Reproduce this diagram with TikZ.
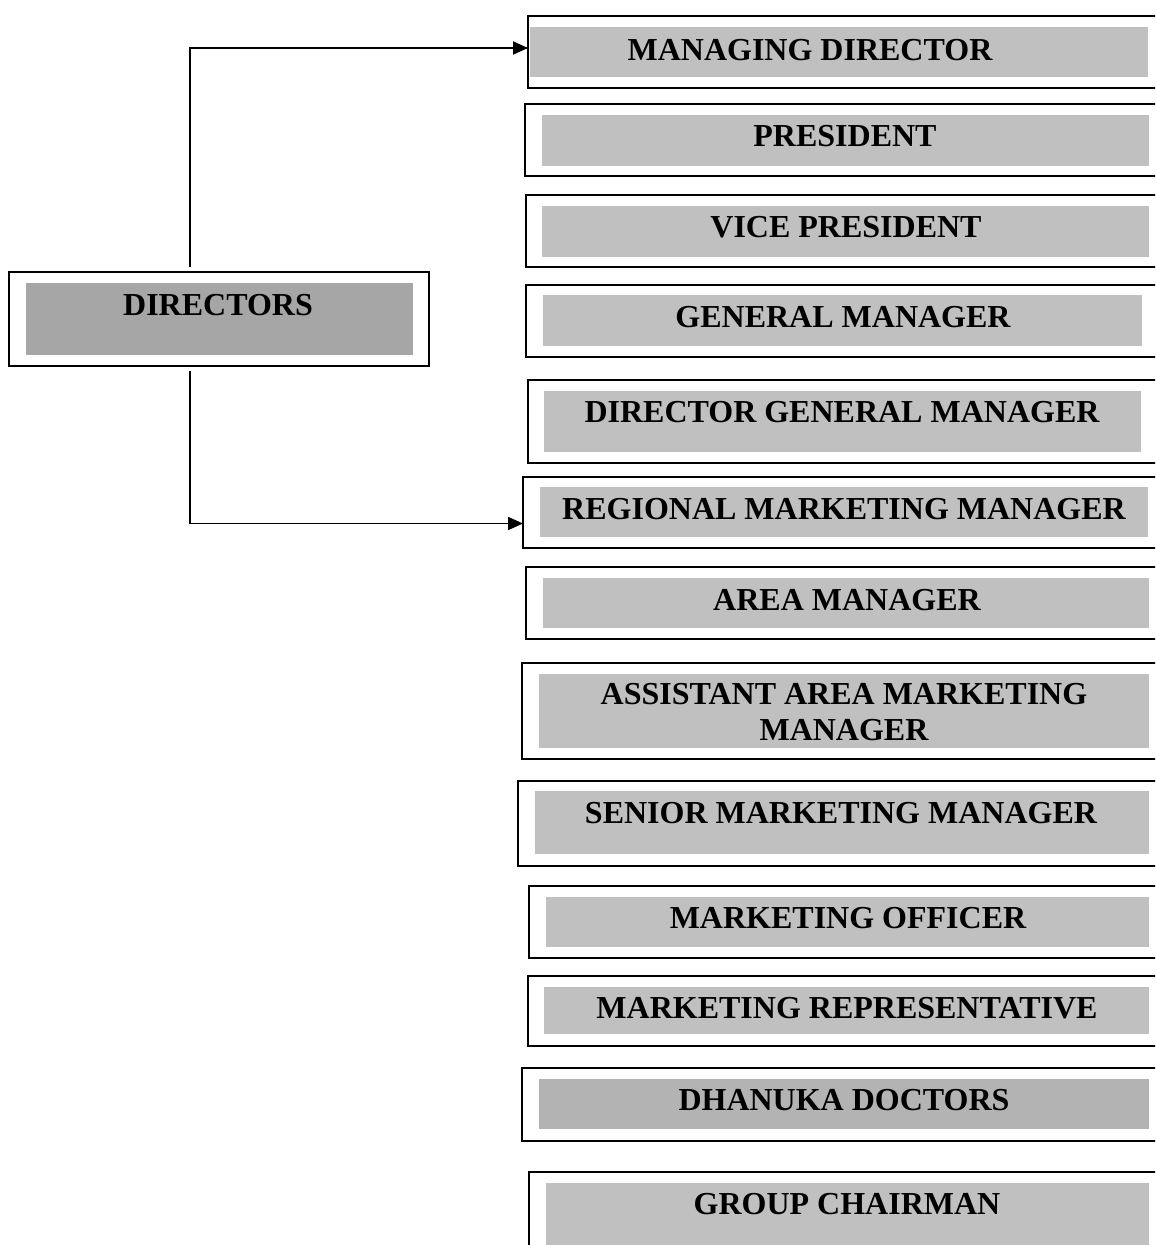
\documentclass[tikz,border=0pt]{standalone}
\usepackage{fontspec}
\setmainfont{Liberation Serif}
\usetikzlibrary{arrows.meta}
\definecolor{boxgrey}{HTML}{C0C0C0}
\definecolor{dirgrey}{HTML}{A6A6A6}
\definecolor{docgrey}{HTML}{B3B3B3}
\tikzset{
  outerbox/.style={draw=black, line width=1pt, fill=white, anchor=north west, inner sep=0pt, outer sep=0pt},
  greybox/.style={fill=#1, draw=none, anchor=north west, inner sep=0pt, outer sep=0pt},
  greybox/.default=boxgrey,
  label/.style={font=\fontsize{16pt}{18pt}\selectfont\bfseries, align=center, inner sep=0pt},
  conn/.style={draw=black, line width=0.9pt, -{Triangle[length=7.5pt,width=6.5pt]}}
}
% px -> pt helper: w and h given in px (1px = 0.5pt)
\newcommand\obox[5]{% name, x1, y1, x2, y2
  \pgfmathsetmacro\ww{(#4-#2)*0.5}\pgfmathsetmacro\hh{(#5-#3)*0.5}%
  \node[outerbox, minimum width=\ww pt, minimum height=\hh pt] (#1) at (#2,#3) {};}
\newcommand\gbox[6]{% name, x1, y1, x2, y2, colour
  \pgfmathsetmacro\ww{(#4-#2)*0.5}\pgfmathsetmacro\hh{(#5-#3)*0.5}%
  \node[greybox=#6, minimum width=\ww pt, minimum height=\hh pt] (#1) at (#2,#3) {};}
\begin{document}
\begin{tikzpicture}[x=0.5pt, y=-0.5pt]
\clip (0,0) rectangle (1155,1245);
\fill[white] (0,0) rectangle (1155,1245);

% Directors
\obox{dirs}{9}{272}{429}{366}
\gbox{dirsg}{26}{283}{413}{355}{dirgrey}
\node[label] (dirst) at (218,305) {DIRECTORS};

% right column
\obox{md}{528}{16}{1170}{88}
\gbox{mdg}{530}{27}{1148}{77}{boxgrey}
\node[label] (mdt) at (810,50) {MANAGING DIRECTOR};

\obox{pres}{525}{104}{1170}{176}
\gbox{presg}{542}{115}{1149}{166}{boxgrey}
\node[label] (prest) at (845,136) {PRESIDENT};

\obox{vp}{526}{195}{1170}{267}
\gbox{vpg}{542}{206}{1149}{257}{boxgrey}
\node[label] (vpt) at (846,227) {VICE PRESIDENT};

\obox{gm}{526}{285}{1170}{357}
\gbox{gmg}{543}{295}{1142}{346}{boxgrey}
\node[label] (gmt) at (843,317) {GENERAL MANAGER};

\obox{dgm}{528}{380}{1170}{463}
\gbox{dgmg}{544}{391}{1141}{452}{boxgrey}
\node[label] (dgmt) at (842,412) {DIRECTOR GENERAL MANAGER};

\obox{rmm}{523}{477}{1170}{548}
\gbox{rmmg}{540}{487}{1148}{537}{boxgrey}
\node[label] (rmmt) at (844,509) {REGIONAL MARKETING MANAGER};

\obox{am}{526}{567}{1170}{639}
\gbox{amg}{543}{578}{1149}{628}{boxgrey}
\node[label] (amt) at (847,600) {AREA MANAGER};

\obox{aamm}{522}{663}{1170}{759}
\gbox{aammg}{539}{674}{1149}{748}{boxgrey}
\node[label] (aammt) at (844,712) {ASSISTANT AREA MARKETING\\MANAGER};

\obox{smm}{518}{781}{1170}{866}
\gbox{smmg}{535}{791}{1149}{854}{boxgrey}
\node[label] (smmt) at (841,813) {SENIOR MARKETING MANAGER};

\obox{mo}{529}{886}{1170}{958}
\gbox{mog}{546}{897}{1149}{947}{boxgrey}
\node[label] (mot) at (848,918) {MARKETING OFFICER};

\obox{mr}{528}{976}{1170}{1046}
\gbox{mrg}{544}{987}{1149}{1034}{boxgrey}
\node[label] (mrt) at (847,1008) {MARKETING REPRESENTATIVE};

\obox{dd}{522}{1068}{1170}{1141}
\gbox{ddg}{539}{1079}{1149}{1129}{docgrey}
\node[label] (ddt) at (844,1100) {DHANUKA DOCTORS};

\obox{gc}{529}{1172}{1170}{1270}
\gbox{gcg}{546}{1183}{1149}{1260}{boxgrey}
\node[label] (gct) at (847,1204) {GROUP CHAIRMAN};

% connectors
\coordinate (tap) at (190,0);
\draw[conn] ([yshift=2.5pt]dirs.north -| tap) |- ([yshift=2pt]md.west);
\draw[conn] ([yshift=-2.5pt]dirs.south -| tap) |- ([yshift=-5.5pt]rmm.west);
\end{tikzpicture}
\end{document}
